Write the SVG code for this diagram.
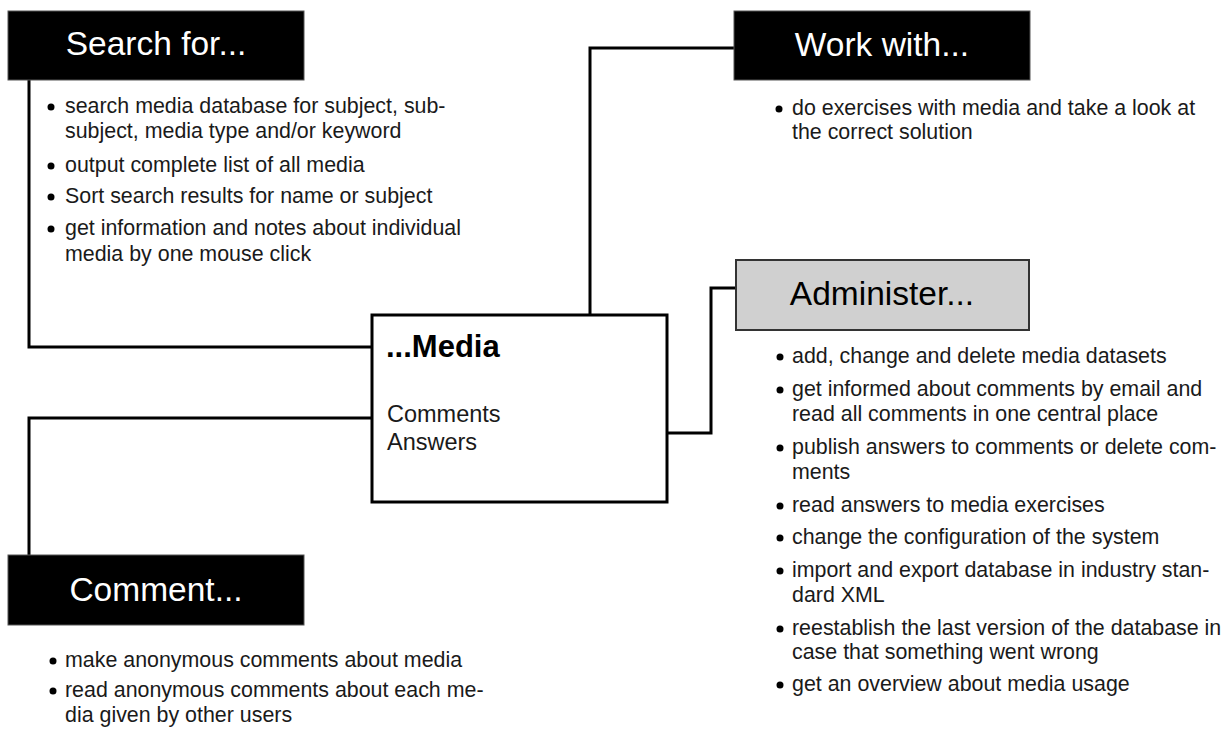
<svg xmlns="http://www.w3.org/2000/svg" width="1231" height="729" viewBox="0 0 1231 729">
<style>
.hbox{fill:#000;stroke:#555;stroke-width:1}
.gbox{fill:#d0d0d0;stroke:#333;stroke-width:2}
.mbox{fill:#fff;stroke:#000;stroke-width:3}
.ht{font-family:"Liberation Sans",Arial,sans-serif;font-size:33.5px;fill:#fff;text-anchor:middle}
.htd{font-family:"Liberation Sans",Arial,sans-serif;font-size:33.5px;fill:#000;text-anchor:middle}
.b{font-family:"Liberation Sans",Arial,sans-serif;font-size:21.4px;fill:#1a1a1a}
.mt{font-family:"Liberation Sans",Arial,sans-serif;font-size:31px;font-weight:bold;fill:#000}
.ms{font-family:"Liberation Sans",Arial,sans-serif;font-size:23.5px;fill:#1a1a1a}
.dot{fill:#000}
.conn{fill:none;stroke:#000;stroke-width:3}
</style>
<rect width="1231" height="729" fill="#fff"/>
<g id="connectors">
<polyline class="conn" points="29,80 29,347 372,347"/>
<polyline class="conn" points="372,418 29,418 29,555"/>
<polyline class="conn" points="590,315 590,48 734,48"/>
<polyline class="conn" points="667,433 711,433 711,288 736,288"/>
</g>
<g id="search">
<rect class="hbox" x="8" y="11" width="296" height="69"/>
<text class="ht" x="156" y="55">Search for...</text>
<circle class="dot" cx="51" cy="107" r="3.5"/>
<text class="b" x="65" y="113">search media database for subject, sub-</text>
<text class="b" x="65" y="138">subject, media type and/or keyword</text>
<circle class="dot" cx="51" cy="166" r="3.5"/>
<text class="b" x="65" y="172">output complete list of all media</text>
<circle class="dot" cx="51" cy="197" r="3.5"/>
<text class="b" x="65" y="203">Sort search results for name or subject</text>
<circle class="dot" cx="51" cy="229" r="3.5"/>
<text class="b" x="65" y="235">get information and notes about individual</text>
<text class="b" x="65" y="261">media by one mouse click</text>
</g>
<g id="work">
<rect class="hbox" x="734" y="11" width="296" height="69"/>
<text class="ht" x="882" y="56">Work with...</text>
<circle class="dot" cx="779" cy="109" r="3.5"/>
<text class="b" x="792" y="115">do exercises with media and take a look at</text>
<text class="b" x="792" y="139">the correct solution</text>
</g>
<g id="administer">
<rect class="gbox" x="736" y="260" width="293" height="70"/>
<text class="htd" x="882" y="305">Administer...</text>
<circle class="dot" cx="780" cy="357" r="3.5"/>
<text class="b" x="792" y="363">add, change and delete media datasets</text>
<circle class="dot" cx="780" cy="390" r="3.5"/>
<text class="b" x="792" y="396">get informed about comments by email and</text>
<text class="b" x="792" y="421">read all comments in one central place</text>
<circle class="dot" cx="780" cy="448" r="3.5"/>
<text class="b" x="792" y="454">publish answers to comments or delete com-</text>
<text class="b" x="792" y="479">ments</text>
<circle class="dot" cx="780" cy="506" r="3.5"/>
<text class="b" x="792" y="512">read answers to media exercises</text>
<circle class="dot" cx="780" cy="538" r="3.5"/>
<text class="b" x="792" y="544">change the configuration of the system</text>
<circle class="dot" cx="780" cy="571" r="3.5"/>
<text class="b" x="792" y="577">import and export database in industry stan-</text>
<text class="b" x="792" y="602">dard XML</text>
<circle class="dot" cx="780" cy="629" r="3.5"/>
<text class="b" x="792" y="635">reestablish the last version of the database in</text>
<text class="b" x="792" y="659">case that something went wrong</text>
<circle class="dot" cx="780" cy="685" r="3.5"/>
<text class="b" x="792" y="691">get an overview about media usage</text>
</g>
<g id="media">
<rect class="mbox" x="372" y="315" width="295" height="187"/>
<text class="mt" x="386" y="357">...Media</text>
<text class="ms" x="387" y="422">Comments</text>
<text class="ms" x="387" y="450">Answers</text>
</g>
<g id="comment">
<rect class="hbox" x="8" y="555" width="296" height="70"/>
<text class="ht" x="156" y="601">Comment...</text>
<circle class="dot" cx="53" cy="661" r="3.5"/>
<text class="b" x="65" y="667">make anonymous comments about media</text>
<circle class="dot" cx="53" cy="691" r="3.5"/>
<text class="b" x="65" y="697">read anonymous comments about each me-</text>
<text class="b" x="65" y="722">dia given by other users</text>
</g>
</svg>
